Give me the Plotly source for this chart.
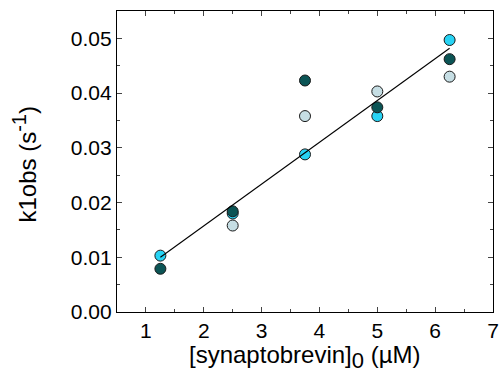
import plotly.graph_objects as go

conc = [1.25, 2.5, 3.75, 5.0, 6.25]
k_light = [None, 0.0158, 0.0358, 0.0403, 0.0430]
k_cyan = [0.0103, 0.0180, 0.0288, 0.0358, 0.0497]
k_dark = [0.0079, 0.0184, 0.0423, 0.0374, 0.0462]
fit_x = [1.25, 6.25]
fit_y = [0.0100, 0.0482]

x_ticks = [1, 2, 3, 4, 5, 6, 7]
y_ticks = [0.00, 0.01, 0.02, 0.03, 0.04, 0.05]

FONT = "Liberation Sans, Arial, sans-serif"

fig = go.Figure()
for ys, col in [(k_light, "#c6dee4"), (k_cyan, "#27d3f4"), (k_dark, "#0b5455")]:
    fig.add_trace(go.Scatter(
        x=conc, y=ys, mode="markers",
        marker=dict(size=11, color=col, line=dict(color="#1a1a1a", width=1)),
        showlegend=False, cliponaxis=False))
fig.add_trace(go.Scatter(x=fit_x, y=fit_y, mode="lines",
                         line=dict(color="black", width=1.1), showlegend=False))

axis_common = dict(
    showgrid=False, zeroline=False, showline=True, linecolor="black", linewidth=1.3,
    mirror="ticks", ticks="inside", ticklen=5, tickwidth=1, tickcolor="#444",
    tickfont=dict(family=FONT, size=21, color="black"), automargin=False,
)
fig.update_xaxes(
    range=[0.5, 7], tickvals=x_ticks, ticktext=[str(v) for v in x_ticks],
    minor=dict(dtick=0.5, tick0=0.5, ticks="inside", ticklen=3, tickcolor="#444"),
    **axis_common)
fig.update_yaxes(
    range=[0, 0.055], tickvals=y_ticks, ticktext=[f"{v:.2f}" for v in y_ticks],
    minor=dict(dtick=0.005, tick0=0, ticks="inside", ticklen=3, tickcolor="#444"),
    **axis_common)

fig.add_annotation(
    text="[synaptobrevin]<sub><span style='font-size:22px'>0</span></sub> (µM)",
    xref="paper", yref="paper", x=0.5, y=0, yshift=-45,
    xanchor="center", yanchor="middle", showarrow=False,
    font=dict(family=FONT, size=24, color="black"))
fig.add_annotation(
    text="k1obs (s<sup><span style='font-size:20px'>-1</span></sup>)",
    xref="paper", yref="paper", x=0, y=0.5, xshift=-93, yshift=-3,
    xanchor="center", yanchor="middle", textangle=-90, showarrow=False,
    font=dict(family=FONT, size=24, color="black"))

fig.update_layout(
    width=503, height=372,
    margin=dict(l=117, r=10, t=11, b=60),
    paper_bgcolor="white", plot_bgcolor="white",
)
fig.write_html("out.html")
